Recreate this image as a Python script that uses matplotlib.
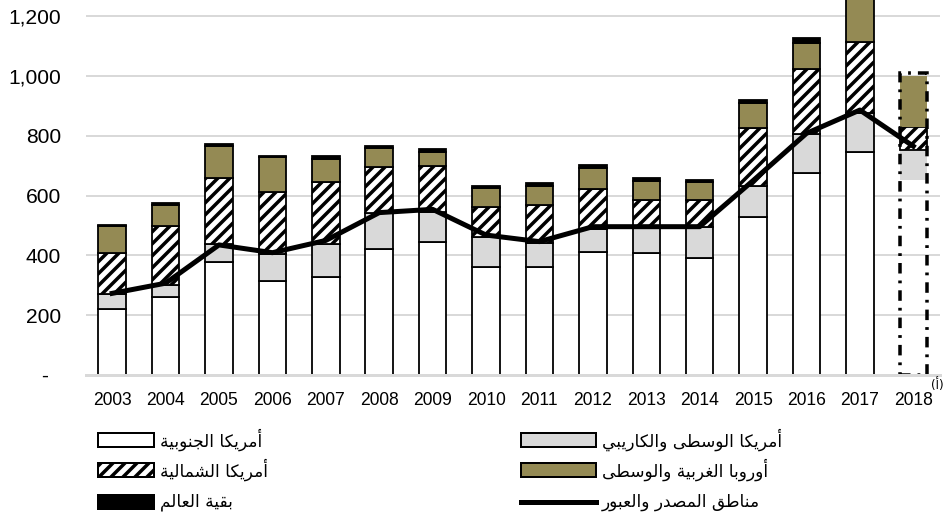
import numpy as np
import matplotlib
matplotlib.use("Agg")
import matplotlib.pyplot as plt
from matplotlib.patches import Rectangle
from matplotlib.lines import Line2D
from matplotlib import font_manager

# ---- minimal Arabic shaping (matplotlib has no bidi / joining) ----
FORMS = {
    'ا': ('\uFE8D', '\uFE8E', None, None), 'أ': ('\uFE83', '\uFE84', None, None),
    'ب': ('\uFE8F', '\uFE90', '\uFE91', '\uFE92'), 'ة': ('\uFE93', '\uFE94', None, None),
    'ت': ('\uFE95', '\uFE96', '\uFE97', '\uFE98'), 'ج': ('\uFE9D', '\uFE9E', '\uFE9F', '\uFEA0'),
    'د': ('\uFEA9', '\uFEAA', None, None), 'ر': ('\uFEAD', '\uFEAE', None, None),
    'س': ('\uFEB1', '\uFEB2', '\uFEB3', '\uFEB4'), 'ش': ('\uFEB5', '\uFEB6', '\uFEB7', '\uFEB8'),
    'ص': ('\uFEB9', '\uFEBA', '\uFEBB', '\uFEBC'), 'ط': ('\uFEC1', '\uFEC2', '\uFEC3', '\uFEC4'),
    'ع': ('\uFEC9', '\uFECA', '\uFECB', '\uFECC'), 'غ': ('\uFECD', '\uFECE', '\uFECF', '\uFED0'),
    'ق': ('\uFED5', '\uFED6', '\uFED7', '\uFED8'), 'ك': ('\uFED9', '\uFEDA', '\uFEDB', '\uFEDC'),
    'ل': ('\uFEDD', '\uFEDE', '\uFEDF', '\uFEE0'), 'م': ('\uFEE1', '\uFEE2', '\uFEE3', '\uFEE4'),
    'ن': ('\uFEE5', '\uFEE6', '\uFEE7', '\uFEE8'), 'و': ('\uFEED', '\uFEEE', None, None),
    'ى': ('\uFEEF', '\uFEF0', None, None), 'ي': ('\uFEF1', '\uFEF2', '\uFEF3', '\uFEF4'),
}


def joins_forward(c):
    return c in FORMS and FORMS[c][2] is not None


def shape(s):
    out = []
    for i, c in enumerate(s):
        if c not in FORMS:
            out.append(c)
            continue
        prev = s[i - 1] if i > 0 else ''
        nxt = s[i + 1] if i < len(s) - 1 else ''
        jp = joins_forward(prev)
        jn = joins_forward(c) and nxt in FORMS
        iso, fin, ini, med = FORMS[c]
        if jp and jn:
            out.append(med)
        elif jp:
            out.append(fin)
        elif jn:
            out.append(ini)
        else:
            out.append(iso)
    return ''.join(reversed(out))


# ---- data ----
years = ['2003', '2004', '2005', '2006', '2007', '2008', '2009', '2010',
         '2011', '2012', '2013', '2014', '2015', '2016', '2017']
south_america = [221, 262, 379, 315, 329, 420, 444, 362, 362, 412, 407, 392, 527, 677, 747]
central_america = [49, 40, 58, 90, 109, 121, 102, 101, 81, 75, 85, 102, 105, 128, 128]
north_america = [139, 196, 223, 206, 206, 156, 153, 100, 126, 134, 93, 91, 195, 218, 240]
europe = [88, 70, 106, 117, 77, 61, 48, 61, 63, 70, 64, 62, 82, 88, 150]
rest_world = [5, 8, 5, 5, 11, 9, 8, 9, 9, 11, 9, 5, 11, 17, 8]
source_transit = [273, 307, 435, 409, 450, 543, 554, 468, 446, 496, 496, 496, 650, 808, 886, 765]

# 2018 (estimate)
year_2018 = '2018'
base_2018 = 652
central_2018 = 100
north_2018 = 78
europe_2018 = 170
total_2018 = 1010

labels = {
    'south': 'أمريكا الجنوبية',
    'central': 'أمريكا الوسطى والكاريبي',
    'north': 'أمريكا الشمالية',
    'europe': 'أوروبا الغربية والوسطى',
    'rest': 'بقية العالم',
    'line': 'مناطق المصدر والعبور',
}

OLIVE = '#948A54'
GRAY = '#D9D9D9'

plt.rcParams['hatch.linewidth'] = 3.5
plt.rcParams['hatch.color'] = 'black'

names = {f.name for f in font_manager.fontManager.ttflist}
if 'Liberation Sans Narrow' in names:
    xfont, xsize = 'Liberation Sans Narrow', 21
else:
    xfont, xsize = 'Liberation Sans', 17.5

W, H = 945, 522
fig = plt.figure(figsize=(W / 72, H / 72), dpi=72)
ax = fig.add_axes([86 / W, (H - 375) / H, (940 - 86) / W, 375 / H])

x = np.arange(len(years))
bw = 0.515
ew = 1.8
bottom = np.zeros(len(years))
for vals, fc, hatch in [(south_america, 'white', None), (central_america, GRAY, None),
                        (north_america, 'white', '//'), (europe, OLIVE, None),
                        (rest_world, 'black', None)]:
    ax.bar(x, vals, bw, bottom=bottom, color=fc, edgecolor='black', linewidth=ew,
           hatch=hatch, zorder=2)
    bottom += np.array(vals)

# 2018 bar
x18 = len(years)
ax.bar(x18, central_2018, bw, bottom=base_2018, color=GRAY, edgecolor='none', zorder=2)
ax.bar(x18, north_2018, bw, bottom=base_2018 + central_2018, color='white',
       edgecolor='black', linewidth=ew, hatch='//', zorder=2)
ax.bar(x18, europe_2018, bw, bottom=base_2018 + central_2018 + north_2018, color=OLIVE,
       edgecolor='none', zorder=2)
ax.bar(x18, total_2018, bw, fill=False, edgecolor='black', linewidth=3.5,
       linestyle=(0, (3, 2, 0.8, 2)), zorder=3)

ax.plot(np.arange(len(source_transit)), source_transit, color='black', linewidth=5,
        zorder=4)

ax.set_xlim(-0.49, 15.5)
ax.set_ylim(0, 1254)
ax.set_yticks(range(0, 1201, 200))
ax.set_yticklabels(['-  ', '200', '400', '600', '800', '1,000', '1,200'],
                   fontfamily='Liberation Sans', fontsize=21)
ax.set_xticks(list(x) + [x18])
ax.set_xticklabels(years + [year_2018], fontfamily=xfont, fontsize=xsize)
ax.tick_params(axis='y', length=0, pad=25)
ax.tick_params(axis='x', length=0, pad=17)
ax.grid(axis='y', color=GRAY, linewidth=2)
ax.set_axisbelow(True)
for s in ['left', 'right', 'top']:
    ax.spines[s].set_visible(False)
ax.spines['bottom'].set_color(GRAY)
ax.spines['bottom'].set_linewidth(3)
ax.spines['bottom'].set_zorder(5)

fig.text(931 / W, 1 - 392 / H, '(' + shape('أ') + ')', fontsize=12,
         fontfamily='DejaVu Sans', ha='left', va='bottom')

# ---- legend, drawn by hand ----
afont = dict(fontfamily='DejaVu Sans', fontsize=17, va='center', ha='left')
rows = [440, 470, 502]
left_items = [('south', 'white', None), ('north', 'white', '//'), ('rest', 'black', None)]
right_items = [('central', GRAY, None), ('europe', OLIVE, None), ('line', None, None)]
for (key, fc, hatch), yc in zip(left_items, rows):
    fig.add_artist(Rectangle((98 / W, 1 - (yc + 7) / H), 56 / W, 14 / H, facecolor=fc,
                             edgecolor='black', linewidth=2, hatch=hatch,
                             transform=fig.transFigure))
    fig.text(160 / W, 1 - yc / H, shape(labels[key]), **afont)
for (key, fc, hatch), yc in zip(right_items, rows):
    if fc is None:
        fig.add_artist(Line2D([521 / W, 596 / W], [1 - yc / H, 1 - yc / H], color='black',
                              linewidth=5, transform=fig.transFigure))
    else:
        fig.add_artist(Rectangle((521 / W, 1 - (yc + 7) / H), 75 / W, 14 / H, facecolor=fc,
                                 edgecolor='black', linewidth=2, hatch=hatch,
                                 transform=fig.transFigure))
    fig.text(602 / W, 1 - yc / H, shape(labels[key]), **afont)

fig.savefig('out.png', dpi=72)
